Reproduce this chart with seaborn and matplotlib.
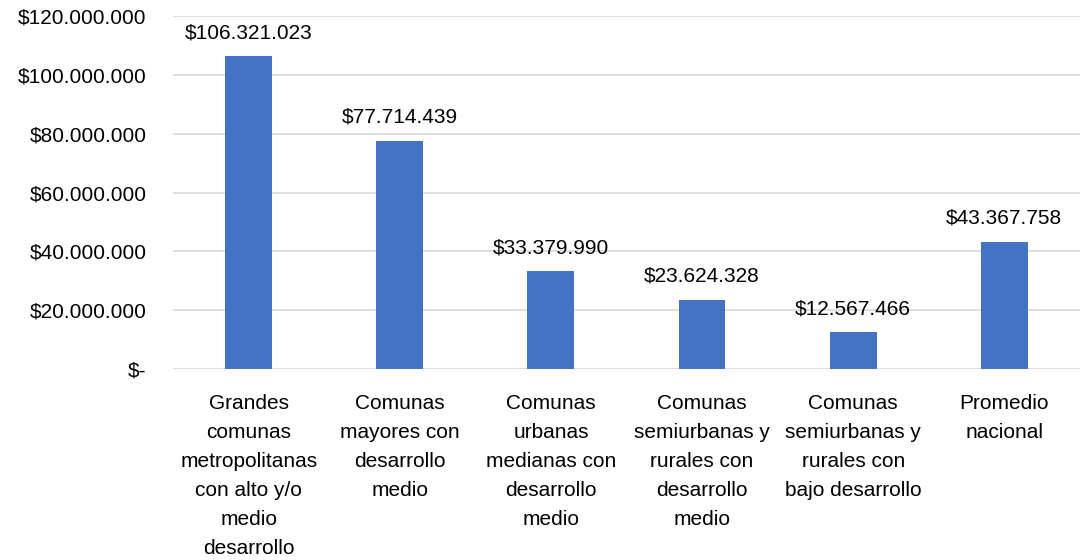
import matplotlib
matplotlib.use("Agg")
import matplotlib.pyplot as plt
import seaborn as sns
import pandas as pd
from matplotlib.ticker import FuncFormatter

categories = [
    "Grandes\ncomunas\nmetropolitanas\ncon alto y/o\nmedio\ndesarrollo",
    "Comunas\nmayores con\ndesarrollo\nmedio",
    "Comunas\nurbanas\nmedianas con\ndesarrollo\nmedio",
    "Comunas\nsemiurbanas y\nrurales con\ndesarrollo\nmedio",
    "Comunas\nsemiurbanas y\nrurales con\nbajo desarrollo",
    "Promedio\nnacional",
]
values = [106321023, 77714439, 33379990, 23624328, 12567466, 43367758]
yticks = [0, 20000000, 40000000, 60000000, 80000000, 100000000, 120000000]

sns.set_theme(style="white")
plt.rcParams['font.family'] = ['Liberation Sans', 'DejaVu Sans']

def money(v):
    if v == 0:
        return "$-"
    return "$" + f"{int(v):,}".replace(",", ".")

df = pd.DataFrame({"cat": categories, "val": values})

fig = plt.figure(figsize=(10.82, 5.6), dpi=100)
ax = fig.add_axes([0.160, 0.341, 0.838, 0.630])
sns.barplot(data=df, x="cat", y="val", color="#4472C4", width=0.31, ax=ax,
            saturation=1, linewidth=0)

ax.set_ylim(0, 120000000)
ax.set_yticks(yticks)
ax.yaxis.set_major_formatter(FuncFormatter(lambda v, p: money(v)))
ax.grid(axis="y", color="#D9D9D9", linewidth=1.2)
ax.set_axisbelow(True)
for s in ax.spines.values():
    s.set_visible(False)
ax.set_xlabel("")
ax.set_ylabel("")
ax.set_xlim(-0.5, 5.5)
ax.tick_params(axis="y", length=0, pad=19, labelsize=15, labelcolor="#000000")
ax.tick_params(axis="x", length=0, pad=18, labelsize=15, labelcolor="#000000")
for lab in ax.get_xticklabels():
    lab.set_linespacing(1.66)
    lab.set_va("top")

for i, v in enumerate(values):
    ax.annotate(money(v), (i, v), xytext=(0, 10), textcoords="offset points",
                ha="center", va="bottom", fontsize=15, color="#000000")

fig.savefig("out.png", dpi=100)
